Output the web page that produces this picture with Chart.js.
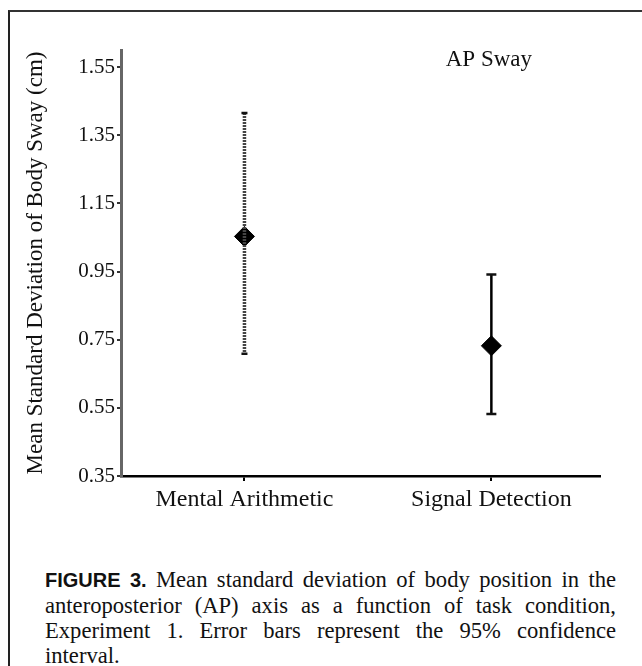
<!DOCTYPE html>
<html>
<head>
<meta charset="utf-8">
<script src="https://cdn.jsdelivr.net/npm/chart.js@4.4.0/dist/chart.umd.min.js"></script>
<style>
  html, body { margin: 0; padding: 0; background: #fff; }
  body { width: 642px; height: 666px; position: relative; overflow: hidden; }
  #frame { position: absolute; left: 8px; top: 10px; right: -10px; bottom: -10px;
           border-left: 2px solid #222; border-top: 2px solid #333; }
  #wrap { position: absolute; left: 0; top: 0; width: 642px; height: 530px; }
  #caption { position: absolute; left: 45px; top: 567px; width: 571px;
             font-family: "Liberation Serif", "DejaVu Serif", serif; font-size: 22.6px;
             line-height: 25px; text-align: justify; color: #111; }
  #caption b { font-family: "Liberation Sans", Arial, sans-serif; font-weight: bold; font-size: 20px; }
</style>
</head>
<body>
<div id="frame"></div>
<div id="wrap"><canvas id="c" width="642" height="530"></canvas></div>
<div id="caption"><b>FIGURE 3.</b> Mean standard deviation of body position in the anteroposterior (AP) axis as a function of task condition, Experiment 1. Error bars represent the 95% confidence interval.</div>
<script>
const categories = ['Mental Arithmetic', 'Signal Detection'];
const means = [1.053, 0.732];
const upperCI = [1.415, 0.941];
const lowerCI = [0.709, 0.532];
const yTicks = [0.35, 0.55, 0.75, 0.95, 1.15, 1.35, 1.55];
const panelLabel = 'AP Sway';
const yTitle = 'Mean Standard Deviation of Body Sway (cm)';

const serif = '"Liberation Serif", "DejaVu Serif", serif';

const errorBars = {
  id: 'errorBars',
  afterDatasetsDraw(chart) {
    const ctx = chart.ctx, xs = chart.scales.x, ys = chart.scales.y;
    const styles = [
      { color: '#444', width: 3.5, dash: [2, 1], cap: 3 },
      { color: '#000', width: 2.5, dash: [], cap: 5 }
    ];
    ctx.save();
    categories.forEach((c, i) => {
      const s = styles[i];
      const x = xs.getPixelForValue(i);
      const yt = ys.getPixelForValue(upperCI[i]);
      const yb = ys.getPixelForValue(lowerCI[i]);
      ctx.strokeStyle = s.color; ctx.lineWidth = s.width; ctx.setLineDash(s.dash);
      ctx.beginPath(); ctx.moveTo(x, yt); ctx.lineTo(x, yb); ctx.stroke();
      ctx.setLineDash([]);
      ctx.strokeStyle = '#111'; ctx.lineWidth = 2.5;
      ctx.beginPath();
      ctx.moveTo(x - s.cap, yt); ctx.lineTo(x + s.cap, yt);
      ctx.moveTo(x - s.cap, yb); ctx.lineTo(x + s.cap, yb);
      ctx.stroke();
    });
    ctx.restore();
  }
};

const panelText = {
  id: 'panelText',
  afterDraw(chart) {
    const ctx = chart.ctx, a = chart.chartArea;
    ctx.save();
    ctx.font = '23px ' + serif;
    ctx.fillStyle = '#111';
    ctx.textAlign = 'center';
    ctx.textBaseline = 'middle';
    ctx.fillText(panelLabel, a.left + (a.right - a.left) * 0.768, 60);
    ctx.restore();
  }
};

new Chart(document.getElementById('c'), {
  type: 'scatter',
  data: {
    datasets: [{
      data: means.map((m, i) => ({ x: i, y: m })),
      pointStyle: 'rectRot',
      pointRadius: 10,
      pointBackgroundColor: '#000',
      pointBorderColor: '#000',
      borderWidth: 1,
      order: 0
    }]
  },
  options: {
    responsive: false,
    animation: false,
    layout: { padding: { left: 22, right: 42, top: 50, bottom: 10 } },
    plugins: { legend: { display: false }, tooltip: { enabled: false } },
    scales: {
      x: {
        type: 'linear', min: -0.5, max: 1.44,
        afterBuildTicks: s => { s.ticks = categories.map((c, i) => ({ value: i })); },
        afterFit: s => { s.height = 44; },
        ticks: { callback: v => categories[v], color: '#111', font: { family: serif, size: 24 }, padding: 4, maxRotation: 0 },
        grid: { display: true, drawOnChartArea: false, drawTicks: true, tickLength: 5, color: '#000', lineWidth: 2 },
        border: { display: true, color: '#000', width: 2.5 }
      },
      y: {
        min: 0.35, max: 1.60,
        afterBuildTicks: s => { s.ticks = yTicks.map(v => ({ value: v })); },
        afterFit: s => { s.width = 99; },
        ticks: { callback: v => v.toFixed(2), color: '#111', font: { family: serif, size: 21 }, padding: 2 },
        grid: { display: true, drawOnChartArea: false, drawTicks: true, tickLength: 4, color: '#333', lineWidth: 2 },
        border: { display: true, color: '#666', width: 3, dash: [2, 1] },
        title: { display: true, text: yTitle, color: '#111', font: { family: serif, size: 23 }, padding: { top: 0, bottom: 2 } }
      }
    }
  },
  plugins: [errorBars, panelText]
});
</script>
</body>
</html>
